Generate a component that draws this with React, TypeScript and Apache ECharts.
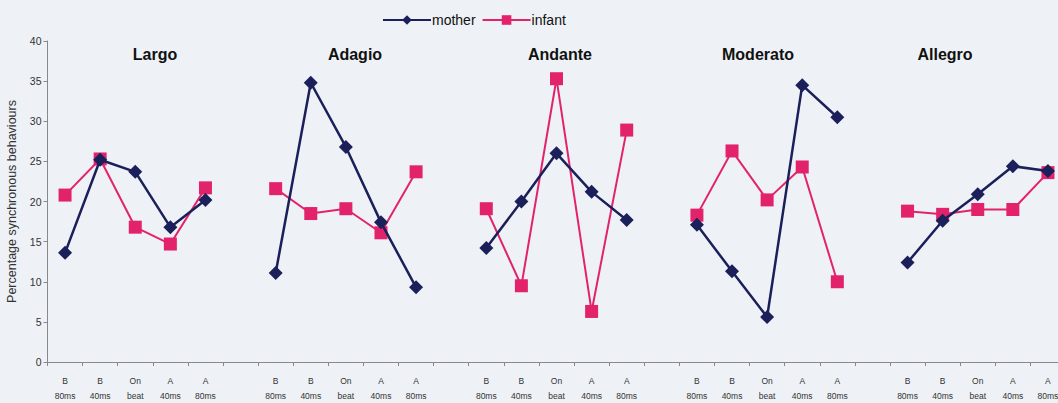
import React, { useEffect, useRef } from "react";
import * as echarts from "echarts";

const groups = ["Largo", "Adagio", "Andante", "Moderato", "Allegro"];
const subCategories = ["B\n80ms", "B\n40ms", "On\nbeat", "A\n40ms", "A\n80ms"];
const yTicks = [0, 5, 10, 15, 20, 25, 30, 35, 40];

const motherLargo = [13.6, 25.2, 23.7, 16.8, 20.2];
const motherAdagio = [11.1, 34.8, 26.8, 17.4, 9.3];
const motherAndante = [14.2, 20.0, 26.0, 21.2, 17.7];
const motherModerato = [17.1, 11.3, 5.6, 34.5, 30.5];
const motherAllegro = [12.4, 17.6, 20.9, 24.4, 23.8];

const infantLargo = [20.8, 25.3, 16.8, 14.7, 21.7];
const infantAdagio = [21.6, 18.5, 19.1, 16.1, 23.7];
const infantAndante = [19.1, 9.5, 35.3, 6.3, 28.9];
const infantModerato = [18.3, 26.3, 20.2, 24.3, 10.0];
const infantAllegro = [18.8, 18.4, 19.0, 19.0, 23.6];

const motherGroups = [motherLargo, motherAdagio, motherAndante, motherModerato, motherAllegro];
const infantGroups = [infantLargo, infantAdagio, infantAndante, infantModerato, infantAllegro];

const titleX = [155, 355, 560, 758, 945];

function flatten(gs: number[][]): (number | null)[] {
  const out: (number | null)[] = [];
  gs.forEach((g, i) => {
    if (i > 0) out.push(null);
    g.forEach((v) => out.push(v));
  });
  return out;
}

const axisLabels: string[] = [];
groups.forEach((_, i) => {
  if (i > 0) axisLabels.push("");
  subCategories.forEach((c) => axisLabels.push(c));
});
const axisKeys = axisLabels.map((_, i) => "k" + i);

export default function App() {
  const ref = useRef<HTMLDivElement>(null);
  useEffect(() => {
    if (!ref.current) return;
    const chart = echarts.init(ref.current, undefined, { renderer: "svg" });
    const font = "'Liberation Sans', Arial, sans-serif";
    chart.setOption({
      animation: false,
      backgroundColor: "#eef2f6",
      textStyle: { fontFamily: font },
      legend: {
        left: 377,
        top: 8,
        itemWidth: 48,
        itemHeight: 12,
        itemGap: 6,
        textStyle: { fontSize: 14, color: "#111", fontFamily: font, padding: [0, 0, 0, -4] },
        data: ["mother", "infant"],
      },
      grid: {
        left: 47.5,
        top: 41,
        width: 1018,
        height: 321,
        containLabel: false,
        outerBoundsMode: "none",
      },
      xAxis: {
        type: "category",
        data: axisKeys,
        boundaryGap: true,
        axisLine: { lineStyle: { color: "#888", width: 1 } },
        axisTick: { show: true, length: 4, lineStyle: { color: "#888" } },
        axisLabel: {
          interval: 0,
          fontSize: 8.5,
          lineHeight: 15,
          color: "#333",
          margin: 11,
          formatter: (v: string) => axisLabels[parseInt(v.slice(1), 10)],
        },
        splitLine: { show: false },
      },
      yAxis: {
        type: "value",
        min: yTicks[0],
        max: yTicks[yTicks.length - 1],
        interval: 5,
        name: "Percentage synchronous behaviours",
        nameLocation: "middle",
        nameGap: 23,
        nameTextStyle: { fontSize: 12.5, color: "#333", fontFamily: font },
        axisLine: { show: true, lineStyle: { color: "#888", width: 1 } },
        axisTick: { show: true, length: 4, lineStyle: { color: "#888" } },
        axisLabel: { fontSize: 10.5, color: "#333", margin: 6 },
        splitLine: { show: false },
      },
      graphic: groups.map((g, i) => ({
        type: "text",
        x: titleX[i],
        y: 54,
        style: {
          text: g,
          fontSize: 16,
          fontWeight: "bold",
          fontFamily: font,
          fill: "#111",
          align: "center",
          verticalAlign: "middle",
        },
      })),
      series: [
        {
          name: "mother",
          type: "line",
          data: flatten(motherGroups),
          connectNulls: false,
          symbol: "diamond",
          symbolSize: 14,
          lineStyle: { color: "#1b1f5a", width: 2.5 },
          itemStyle: { color: "#1b1f5a" },
          z: 3,
        },
        {
          name: "infant",
          type: "line",
          data: flatten(infantGroups),
          connectNulls: false,
          symbol: "rect",
          symbolSize: 13,
          lineStyle: { color: "#e2236c", width: 2 },
          itemStyle: { color: "#e2236c" },
          z: 2,
        },
      ],
    });
    return () => chart.dispose();
  }, []);
  return (
    <div
      ref={ref}
      style={{ position: "absolute", left: 0, top: 0, width: 1058, height: 403 }}
    />
  );
}
